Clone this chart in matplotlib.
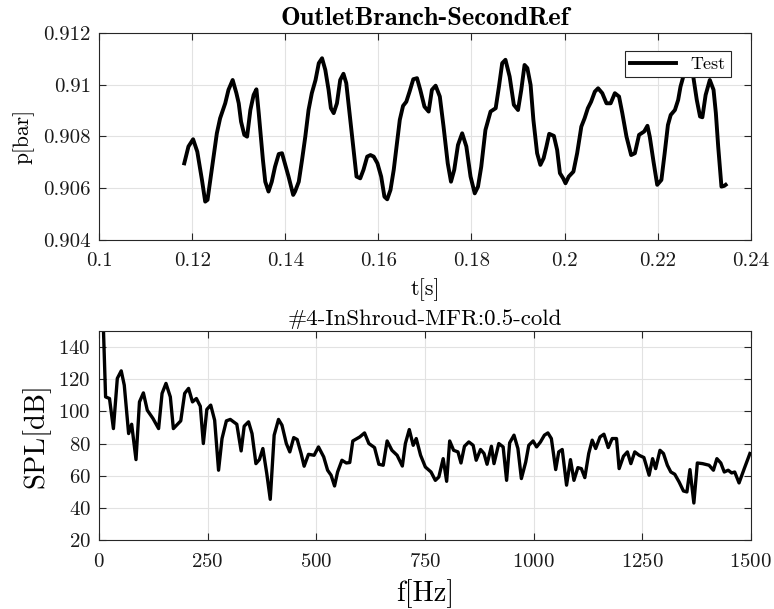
import numpy as np
import matplotlib
matplotlib.use("Agg")
import matplotlib.pyplot as plt
from matplotlib.ticker import FormatStrFormatter

# pressure trace (top)
t = [0.1183, 0.1192, 0.1202, 0.1211, 0.1221, 0.1228, 0.1233, 0.1242, 0.1253, 0.1260,
     0.1271, 0.1278, 0.1287, 0.1295, 0.1300, 0.1305, 0.1312, 0.1318, 0.1325, 0.1332,
     0.1338, 0.1343, 0.1352, 0.1357, 0.1364, 0.1371, 0.1378, 0.1386, 0.1393, 0.1400,
     0.1407, 0.1417, 0.1421, 0.1429, 0.1436, 0.1443, 0.1450, 0.1457, 0.1465, 0.1472,
     0.1479, 0.1486, 0.1493, 0.1498, 0.1504, 0.1511, 0.1518, 0.1525, 0.1531, 0.1538,
     0.1546, 0.1553, 0.1561, 0.1568, 0.1576, 0.1583, 0.1590, 0.1598, 0.1606, 0.1613,
     0.1619, 0.1626, 0.1633, 0.1640, 0.1646, 0.1653, 0.1660, 0.1667, 0.1675, 0.1683,
     0.1690, 0.1699, 0.1708, 0.1715, 0.1723, 0.1732, 0.1740, 0.1749, 0.1756, 0.1763,
     0.1771, 0.1780, 0.1789, 0.1798, 0.1807, 0.1814, 0.1821, 0.1830, 0.1841, 0.1852,
     0.1859, 0.1866, 0.1873, 0.1882, 0.1891, 0.1900, 0.1907, 0.1914, 0.1920, 0.1927,
     0.1933, 0.1941, 0.1948, 0.1955, 0.1961, 0.1967, 0.1977, 0.1984, 0.1990, 0.1997,
     0.2002, 0.2009, 0.2019, 0.2027, 0.2036, 0.2043, 0.2050, 0.2057, 0.2065, 0.2072,
     0.2081, 0.2090, 0.2099, 0.2108, 0.2117, 0.2124, 0.2133, 0.2143, 0.2151, 0.2160,
     0.2171, 0.2178, 0.2183, 0.2191, 0.2199, 0.2208, 0.2215, 0.2222, 0.2228, 0.2237,
     0.2244, 0.2249, 0.2257, 0.2265, 0.2271, 0.2277, 0.2284, 0.2291, 0.2296, 0.2303,
     0.2312, 0.2320, 0.2325, 0.2330, 0.2337, 0.2343, 0.2346]
p = [0.90696, 0.90761, 0.90789, 0.90741, 0.90632, 0.90548, 0.90555, 0.90671, 0.90812, 0.90870,
     0.90928, 0.90980, 0.91018, 0.90967, 0.90928, 0.90857, 0.90806, 0.90799, 0.90902, 0.90960,
     0.90982, 0.90890, 0.90709, 0.90625, 0.90587, 0.90625, 0.90683, 0.90732, 0.90735, 0.90690,
     0.90645, 0.90574, 0.90587, 0.90625, 0.90709, 0.90799, 0.90902, 0.90967, 0.91018, 0.91083,
     0.91102, 0.91057, 0.90980, 0.90909, 0.90890, 0.90928, 0.91018, 0.91042, 0.91006, 0.90890,
     0.90761, 0.90645, 0.90638, 0.90671, 0.90722, 0.90728, 0.90722, 0.90696, 0.90645, 0.90567,
     0.90557, 0.90593, 0.90671, 0.90774, 0.90864, 0.90918, 0.90934, 0.90973, 0.91021, 0.91025,
     0.90980, 0.90915, 0.90896, 0.90980, 0.90996, 0.90954, 0.90838, 0.90696, 0.90625, 0.90671,
     0.90767, 0.90812, 0.90761, 0.90645, 0.90580, 0.90606, 0.90683, 0.90825, 0.90896, 0.90909,
     0.90992, 0.91083, 0.91096, 0.91031, 0.90922, 0.90902, 0.90980, 0.91076, 0.91064, 0.90999,
     0.90864, 0.90735, 0.90690, 0.90716, 0.90761, 0.90810, 0.90802, 0.90748, 0.90658, 0.90638,
     0.90619, 0.90645, 0.90664, 0.90735, 0.90838, 0.90870, 0.90909, 0.90934, 0.90973, 0.90986,
     0.90967, 0.90928, 0.90928, 0.90967, 0.90954, 0.90890, 0.90799, 0.90728, 0.90735, 0.90806,
     0.90819, 0.90841, 0.90799, 0.90703, 0.90613, 0.90632, 0.90735, 0.90844, 0.90883, 0.90902,
     0.90941, 0.90992, 0.91044, 0.91115, 0.91096, 0.91025, 0.90941, 0.90877, 0.90874, 0.90960,
     0.91018, 0.90980, 0.90890, 0.90761, 0.90606, 0.90609, 0.90613]

# spectrum (bottom)
f = [9, 15, 24, 33, 42, 51, 58, 68, 75, 85, 93, 102, 111, 124, 137, 145, 154, 164, 171,
     188, 197, 206, 215, 224, 233, 240, 248, 257, 266, 275, 283, 293, 302, 317, 327, 334,
     344, 352, 361, 369, 377, 386, 394, 403, 413, 421, 431, 439, 448, 456, 465, 472, 482,
     495, 505, 517, 526, 534, 542, 549, 559, 569, 577, 584, 600, 611, 621, 634, 644, 654,
     663, 674, 686, 698, 705, 714, 723, 730, 740, 751, 764, 774, 782, 792, 800, 807, 816,
     826, 833, 841, 851, 861, 868, 878, 886, 893, 903, 909, 920, 930, 938, 945, 955, 964,
     972, 982, 989, 999, 1007, 1016, 1025, 1033, 1041, 1051, 1058, 1066, 1076, 1085, 1093,
     1102, 1110, 1118, 1127, 1135, 1143, 1153, 1162, 1172, 1181, 1191, 1197, 1207, 1216,
     1224, 1233, 1243, 1254, 1266, 1274, 1281, 1291, 1299, 1308, 1316, 1325, 1335, 1345,
     1353, 1360, 1369, 1377, 1389, 1404, 1414, 1422, 1431, 1439, 1448, 1456, 1463, 1473,
     1485, 1498]
spl = [160, 109, 108, 89.3, 120.5, 125.2, 116.3, 86.2, 92, 70, 105.9, 111.5, 100.7, 95.6,
       89.3, 111.2, 117.4, 109, 89.3, 94.1, 111.2, 114.3, 105.9, 108, 103.2, 80, 101.2,
       103.9, 94.5, 63.4, 83.1, 94.1, 95, 92, 75.4, 90.8, 93.5, 86.2, 67.5, 70, 76.9, 61.3,
       45.3, 85.2, 95, 91.4, 80, 74.8, 83.7, 82.5, 73.8, 65.9, 73.3, 72.7, 77.9, 71.7, 63.4,
       60.3, 53.6, 62.3, 69.6, 67.9, 68.2, 81.6, 84.1, 86.6, 80, 77.5, 67.1, 66.5, 81.6,
       75.8, 72.7, 66, 80, 88.7, 78.9, 83.1, 72.7, 65.4, 62.3, 57.1, 59.2, 70.6, 56.5, 81.6,
       75.8, 74.8, 67.9, 78.3, 81, 78.9, 69.6, 76.3, 73.8, 67.1, 78.3, 67.5, 80, 77.9, 57.1,
       80.4, 85.2, 76.9, 58.2, 68.5, 78.9, 81.6, 77.9, 81, 85.2, 86.6, 83.1, 63.8, 74.8,
       76.3, 54.1, 70, 57.1, 65, 64.4, 58.8, 73.8, 82.1, 76.9, 84.1, 85.8, 77.5, 83.1, 83.1,
       64.4, 72.1, 74.8, 67.5, 74.8, 72.7, 71.3, 60.3, 70.6, 64.4, 75.8, 73.8, 66.5, 62.3,
       60.9, 56.1, 50.5, 49.9, 63.8, 43, 67.9, 67.5, 66.5, 63.4, 70.6, 67.9, 62.3, 63.4,
       61.7, 62.3, 55.5, 64.4, 73.8]

plt.rcParams['font.family'] = ['cmr10', 'DejaVu Serif']
plt.rcParams['axes.formatter.use_mathtext'] = True
plt.rcParams['xtick.direction'] = 'in'
plt.rcParams['ytick.direction'] = 'in'

fig = plt.figure(figsize=(7.74, 6.09), dpi=100)
ax1 = fig.add_axes([0.128, 0.606, 0.842, 0.34])
ax2 = fig.add_axes([0.128, 0.1133, 0.842, 0.3432])

edge = '#262626'
for ax in (ax1, ax2):
    ax.grid(True, color='#e2e2e2', linewidth=0.8)
    ax.set_axisbelow(True)
    ax.tick_params(top=True, right=True, colors=edge, length=5, width=0.8,
                   labelsize=15, labelcolor='#1a1a1a')
    ax.tick_params(axis='x', pad=9)
    ax.tick_params(axis='y', pad=6)
    for s in ax.spines.values():
        s.set_color(edge)
        s.set_linewidth(0.8)

ax1.plot(t, p, color='black', linewidth=2.8, label='Test')
ax1.set_xlim(0.1, 0.24)
ax1.set_ylim(0.904, 0.912)
ax1.set_xticks(np.arange(0.1, 0.2401, 0.02))
ax1.set_yticks(np.arange(0.904, 0.91201, 0.002))
ax1.xaxis.set_major_formatter(FormatStrFormatter('%g'))
ax1.yaxis.set_major_formatter(FormatStrFormatter('%g'))
ax1.set_xlabel('t[s]', fontsize=16, labelpad=6)
ax1.set_ylabel('p[bar]', fontsize=15.5, labelpad=6)
ax1.set_title('OutletBranch-SecondRef', fontsize=19, family='cmb10', pad=6)
leg = ax1.legend(loc='upper right', bbox_to_anchor=(0.969, 0.913), borderaxespad=0,
                 fancybox=False, edgecolor=edge, fontsize=13, handlelength=2.5,
                 borderpad=0.3, framealpha=1)
leg.get_frame().set_linewidth(0.8)

ax2.plot(f, spl, color='black', linewidth=2.4)
ax2.set_xlim(0, 1500)
ax2.set_ylim(20, 150)
ax2.set_xticks(np.arange(0, 1501, 250))
ax2.set_yticks(np.arange(20, 141, 20))
ax2.set_xlabel('f[Hz]', fontsize=20.5, labelpad=6)
ax2.set_ylabel('SPL[dB]', fontsize=20.5, labelpad=6)
ax2.set_title('#4-InShroud-MFR:0.5-cold', fontsize=16.5, pad=4)

fig.savefig('out.png', dpi=100)
